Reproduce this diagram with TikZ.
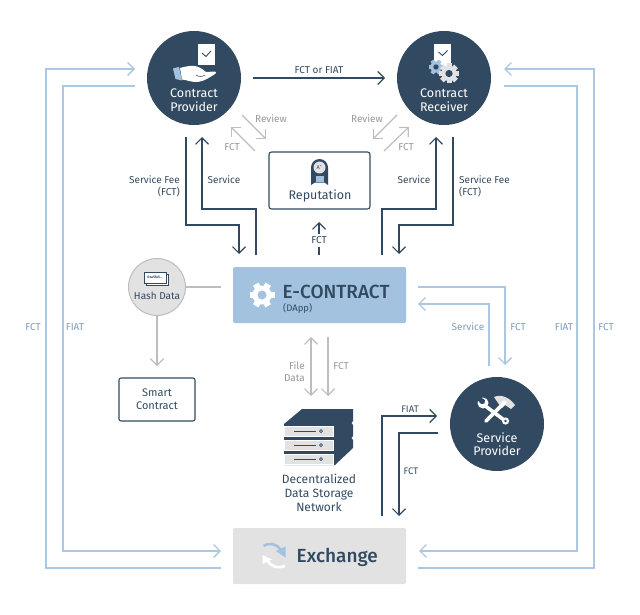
\documentclass[tikz,border=0pt]{standalone}
\usepackage{fontspec}
\setmainfont{Fira Sans}
\newfontfamily\titlefont{Fira Sans Medium}
\usepackage{xcolor}
\usepackage{tikz}
\usetikzlibrary{arrows.meta,calc}
\definecolor{navy}{HTML}{324A61}
\definecolor{skyline}{HTML}{AAC7E4}
\definecolor{skytext}{HTML}{7F9DBD}
\definecolor{skybox}{HTML}{A3C2DF}
\definecolor{greyline}{HTML}{BDBDBD}
\definecolor{greytext}{HTML}{979797}
\definecolor{greybox}{HTML}{E2E2E2}
\newcommand{\fsz}[1]{\fontsize{#1}{#1}\selectfont}
% x, y, radius, colour, colour of the hole, tooth angle
\newcommand{\cogicon}[6]{%
  \begin{scope}[shift={(#1,#2)}]
    \fill[#4] (0,0) circle ({0.76*#3});
    \foreach \a in {0,#6,...,359} \draw[#4,line width={0.5*#3}] (\a:{0.6*#3}) -- (\a:#3);
    \fill[#5] (0,0) circle ({0.36*#3});
  \end{scope}}

\begin{document}
\begin{tikzpicture}[x=1pt,y=-1pt,>={Straight Barb[length=6.5pt,width=13pt]},line join=miter,
  roundel/.style={circle,fill=navy,minimum size=94pt,inner sep=0pt},
  roundeltext/.style={text=white,align=center,font=\fsz{12.5},text depth=0pt},
  navyline/.style={draw=navy,line width=1.1pt},
  skyflow/.style={draw=skyline,line width=1.35pt},
  greyflow/.style={draw=greyline,line width=1.2pt},
  navylabel/.style={text=navy,font=\fsz{10},inner sep=1pt},
  skylabel/.style={text=skytext,font=\fsz{10},inner sep=1pt},
  greylabel/.style={text=greytext,font=\fsz{10},inner sep=1pt},
  tray/.style={fill=greybox,draw=white,line width=0.4pt}]
  \useasboundingbox (0,0) rectangle (640,615);
  \coordinate (PFeeA) at (186,137);
  \coordinate (PFeeB) at (239,225);
  \coordinate (PFeeC) at (239,254);
  \coordinate (PSrvA) at (256,255);
  \coordinate (PSrvB) at (202,209);
  \coordinate (PSrvC) at (202,137);
  \coordinate (RFeeA) at (453,137);
  \coordinate (RFeeB) at (399,225);
  \coordinate (RFeeC) at (399,254);
  \coordinate (RSrvA) at (382,255);
  \coordinate (RSrvB) at (436,209);
  \coordinate (RSrvC) at (436,137);
  \coordinate (PayA) at (253,78);
  \coordinate (PayB) at (385,78);
  \coordinate (RepA) at (319,255);
  \coordinate (RepB) at (319,222);
  \coordinate (PRevA) at (242,115);
  \coordinate (PRevB) at (266,139);
  \coordinate (PFctA) at (255,151);
  \coordinate (PFctB) at (231,127);
  \coordinate (RRevA) at (397,115);
  \coordinate (RRevB) at (373,139);
  \coordinate (RFctA) at (384,151);
  \coordinate (RFctB) at (409,127);
  \coordinate (LOutA) at (221,568);
  \coordinate (LOutB) at (46,69);
  \coordinate (LOutC) at (135,69);
  \coordinate (LInA) at (135,86);
  \coordinate (LInB) at (63,551);
  \coordinate (LInC) at (221,551);
  \coordinate (ROutA) at (418,568);
  \coordinate (ROutB) at (594,69);
  \coordinate (ROutC) at (504,69);
  \coordinate (RInA) at (504,86);
  \coordinate (RInB) at (577,551);
  \coordinate (RInC) at (419,551);
  \coordinate (SFctA) at (418,287);
  \coordinate (SFctB) at (505,365);
  \coordinate (SSrvA) at (489,366);
  \coordinate (SSrvB) at (418,304);
  \coordinate (XFiatA) at (382,516);
  \coordinate (XFiatB) at (437,416);
  \coordinate (XFctA) at (438,433);
  \coordinate (XFctB) at (399,516);
  \coordinate (HashA) at (221,287);
  \coordinate (FileA) at (311,337);
  \coordinate (FileB) at (311,396);
  \coordinate (StoreA) at (328,337);
  \coordinate (StoreB) at (328,396);

  \draw[navyline,->] (PFeeA) |- (PFeeB) -- (PFeeC);
  \draw[navyline,->] (PSrvA) |- (PSrvB) -- (PSrvC);
  \draw[navyline,->] (RFeeA) |- (RFeeB) -- (RFeeC);
  \draw[navyline,->] (RSrvA) |- (RSrvB) -- (RSrvC);
  \draw[navyline,->] (PayA) -- (PayB);
  \draw[navyline,->] (RepA) -- (RepB);
  \draw[navyline,->] (XFiatA) |- (XFiatB);
  \draw[navyline,->] (XFctA) -| (XFctB);
  \draw[greyflow,->] (PRevA) -- (PRevB);
  \draw[greyflow,->] (PFctA) -- (PFctB);
  \draw[greyflow,->] (RRevA) -- (RRevB);
  \draw[greyflow,->] (RFctA) -- (RFctB);
  \draw[greyflow,<->] (FileA) -- (FileB);
  \draw[greyflow,->] (StoreA) -- (StoreB);
  \draw[skyflow,->] (LOutA) -| (LOutB) -- (LOutC);
  \draw[skyflow,->] (LInA) -| (LInB) -- (LInC);
  \draw[skyflow,->] (ROutA) -| (ROutB) -- (ROutC);
  \draw[skyflow,->] (RInA) -| (RInB) -- (RInC);
  \draw[skyflow,->] (SFctA) -| (SFctB);
  \draw[skyflow,->] (SSrvA) |- (SSrvB);

  \node[roundel] (Provider) at (194,78) {};
  \node[roundel] (Receiver) at (444,78) {};
  \node[roundel] (Service) at (497,424) {};
  \node[roundeltext] (ProviderText) at (194,100) {Contract\\[1pt]Provider};
  \node[roundeltext] (ReceiverText) at (444,100) {Contract\\[1pt]Receiver};
  \node[roundeltext] (ServiceText) at (497,444) {Service\\[1pt]Provider};

  % provider icon
  \fill[white] (198,44) rectangle (215,65);
  \draw[navy,line width=0.9pt] (202,53) -- (206,56.5) -- (211,51);
  \fill[skybox] (173,68.5) -- (179,67) -- (182,80.5) -- (175.5,79) -- cycle;
  \fill[white] (180,68) .. controls (187,66) and (193,65) .. (197,66.5)
    .. controls (201,68) and (204,70) .. (206,72) -- (215,71.5)
    .. controls (216.5,72) and (216,73.5) .. (215,74) .. controls (210,77) and (205,81) .. (198,82)
    .. controls (192,82.5) and (187,80) .. (182,79.5) -- cycle;
  \draw[navy,line width=0.5pt] (196,75) .. controls (199,77) and (202,77) .. (205,75);

  % receiver icon
  \fill[white] (434,44) rectangle (451,68);
  \draw[navy,line width=0.9pt] (438.5,52) -- (442.5,55.5) -- (447.5,50.5);
  \cogicon{436}{67}{7.5}{skybox}{navy}{60}
  \cogicon{449}{73.5}{10}{greybox}{navy}{45}

  % tools icon
  \fill[greybox] (494,397) .. controls (501,394) and (509,397) .. (515,405) -- (511,409) -- (505,405) -- (502,408) -- (498,403) -- cycle;
  \draw[white,line width=3.6pt,line cap=round] (486,421) -- (505,402);
  \draw[white,line width=3.6pt,line cap=round] (484,405) -- (504,420);
  \fill[white] (483,403) circle (5.5pt);
  \fill[navy] (480,397) -- (485,400) -- (484.5,403.5) -- (481,404) -- (477.5,400) -- (477,396) -- cycle;
  \fill[white] (505.5,421) circle (3.6pt);
  \fill[navy] (505.5,421) circle (1.4pt);

  \node[draw=navy,line width=1.1pt,rounded corners=2.5pt,minimum width=101pt,minimum height=57pt,inner sep=0pt] (Reputation) at (319.5,180.5) {};
  \fill[navy] (311,167.5) arc[start angle=180,end angle=360,radius=8.5] -- (328,185) -- (324.5,182.5) -- (315,182.5) -- (311,185) -- cycle;
  \fill[skybox] (315.5,176) rectangle (324,182);
  \fill[greybox] (319.5,167.5) circle (6pt);
  \node[text=navy,font=\fsz{5.5},inner sep=0pt] (Grade) at (319.5,167.5) {A\textsuperscript{+}};
  \node[text=navy,font=\fsz{12.5},inner sep=0pt] (ReputationText) at (320,195.5) {Reputation};

  \node[fill=skybox,rounded corners=1.5pt,minimum width=173pt,minimum height=56pt,inner sep=0pt] (EContract) at (319.5,295) {};
  \cogicon{262}{295}{12.5}{white}{skybox}{60}
  \node[text=navy,font=\fsz{19}\titlefont,inner sep=0pt,anchor=west] (EContractText) at (282.5,292) {E-CONTRACT};
  \node[text=navy,font=\fsz{9.5},inner sep=0pt,anchor=west] (DApp) at (283,308) {(DApp)};

  \node[fill=greybox,rounded corners=1.5pt,minimum width=173pt,minimum height=56pt,inner sep=0pt] (Exchange) at (319.5,556) {};
  \draw[skybox,line width=2.6pt] (263.5,546) .. controls (270,542) and (277,544) .. (281,550);
  \fill[skybox] (276,551) -- (285.5,546.5) -- (285.5,557.5) -- cycle;
  \draw[white,line width=2.6pt] (285,566) .. controls (277,569) and (270,566) .. (267,560);
  \fill[white] (262.5,564) -- (262.5,555) -- (272,559.5) -- cycle;
  \node[text=navy,font=\fsz{19}\titlefont,inner sep=0pt,anchor=west] (ExchangeText) at (296.5,557) {Exchange};

  \node[circle,fill=greybox,draw=greyline,line width=1pt,minimum size=57pt,inner sep=0pt] (Hash) at (157,287) {};
  \draw[navy,fill=white,line width=0.7pt] (146,274) rectangle (168,285);
  \draw[navy,fill=white,line width=0.7pt] (144,272) rectangle (166,283);
  \node[text=navy,font=\fsz{3.5}\bfseries,inner sep=0pt] (HashValue) at (155,277.5) {0xa5fa5...};
  \node[text=navy,font=\fsz{10},inner sep=0pt] (HashText) at (157,296) {Hash Data};
  \node[draw=navy,line width=1.1pt,rounded corners=2pt,minimum width=76pt,minimum height=43pt,inner sep=0pt,text=navy,align=center,font=\fsz{11}] (Smart) at (157,399.5) {Smart\\[2pt]Contract};
  \coordinate (SmartIn) at (157,366);
  \draw[greyflow] (Hash) -- (HashA);
  \draw[greyflow,->] (Hash) -- (SmartIn);

  % storage icon
  \fill[navy] (284,424) -- (302,409) -- (353,409) -- (353,421) -- (351.5,423) -- (353,425) -- (353,436) -- (351.5,438) -- (353,440) -- (353,448) -- (335,465) -- (284,465) -- cycle;
  \foreach \y in {426,440,454} {
    \fill[tray] (284,\y) rectangle (333,\y+10.5);
    \draw[navy,line width=0.7pt] (294,\y+5.2) -- (316,\y+5.2);
    \draw[navy,line width=0.7pt] (321,\y+5.2) circle (1.5pt);
  }
  \node[text=navy,align=center,font=\fsz{12},inner sep=0pt] (Storage) at (319,493) {Decentralized\\[2pt]Data Storage\\[2pt]Network};

  \node[navylabel] (LblPay) at (319,70) {FCT or FIAT};
  \node[greylabel] (LblPRev) at (271,119) {Review};
  \node[greylabel] (LblRRev) at (367,119) {Review};
  \node[greylabel] (LblPFct) at (232,147) {FCT};
  \node[greylabel] (LblRFct) at (406,147) {FCT};
  \node[navylabel] (LblPSrv) at (224,180) {Service};
  \node[navylabel] (LblRSrv) at (414,180) {Service};
  \node[navylabel,anchor=east,align=right] (LblPFee) at (181,186) {Service Fee\\[2pt](FCT)};
  \node[navylabel,anchor=west,align=left] (LblRFee) at (458,186) {Service Fee\\[2pt](FCT)};
  \node[navylabel,fill=white,inner ysep=3pt] (LblRep) at (319,240.5) {FCT};
  \node[greylabel,anchor=east,align=right] (LblFile) at (306,372) {File\\[2pt]Data};
  \node[greylabel] (LblStore) at (341,366) {FCT};
  \node[navylabel,font=\fsz{9.5}] (LblFiat) at (410,409) {FIAT};
  \node[navylabel,font=\fsz{9.5}] (LblFct) at (411,471) {FCT};
  \node[skylabel] (LblSSrv) at (468,327) {Service};
  \node[skylabel] (LblSFct) at (518,327) {FCT};
  \node[skylabel] (LblRInn) at (564,327) {FIAT};
  \node[skylabel] (LblROut) at (606,327) {FCT};
  \node[skylabel] (LblLOut) at (33,327) {FCT};
  \node[skylabel] (LblLInn) at (75,327) {FIAT};
\end{tikzpicture}
\end{document}
